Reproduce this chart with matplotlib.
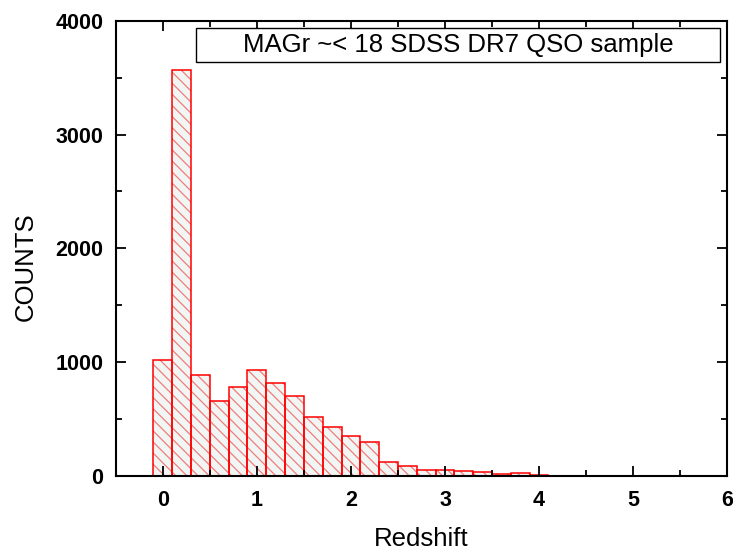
import matplotlib
matplotlib.use('Agg')
import matplotlib.pyplot as plt
from matplotlib.ticker import MultipleLocator
from matplotlib.patches import Rectangle

# histogram of redshift, bins of 0.2 centred on 0, 0.2, 0.4 ...
bin_centers = [0.0, 0.2, 0.4, 0.6, 0.8, 1.0, 1.2, 1.4, 1.6, 1.8, 2.0, 2.2,
               2.4, 2.6, 2.8, 3.0, 3.2, 3.4, 3.6, 3.8, 4.0]
counts = [1020, 3570, 890, 658, 782, 926, 815, 697, 520, 428, 346, 296,
          120, 85, 47, 47, 45, 32, 18, 20, 9]
bin_width = 0.2
legend_text = 'MAGr ~< 18 SDSS DR7 QSO sample'

plt.rcParams['font.family'] = ['Liberation Sans', 'DejaVu Sans']
plt.rcParams['hatch.linewidth'] = 0.9

fig = plt.figure(figsize=(7.33, 5.5), dpi=100)
ax = fig.add_axes([0.158, 0.135, 0.834, 0.827])

# hatch layer (pink lines) then red outlines on top
ax.bar(bin_centers, counts, width=bin_width, facecolor='#f1f6f5',
       edgecolor='#f07c7c', hatch='\\\\\\', linewidth=0)
ax.bar(bin_centers, counts, width=bin_width, facecolor='none',
       edgecolor='#ff0000', linewidth=1.1)

ax.set_xlim(-0.5, 6)
ax.set_ylim(0, 4000)
ax.xaxis.set_major_locator(MultipleLocator(1))
ax.xaxis.set_minor_locator(MultipleLocator(0.5))
ax.yaxis.set_major_locator(MultipleLocator(1000))
ax.yaxis.set_minor_locator(MultipleLocator(500))
ax.tick_params(which='both', direction='in', top=True, right=True, width=1.3)
ax.tick_params(which='major', length=7, labelsize=15.5)
ax.tick_params(axis='x', which='major', pad=10)
ax.tick_params(axis='y', which='major', pad=9)
ax.tick_params(which='minor', length=4)
for lab in ax.get_xticklabels() + ax.get_yticklabels():
    lab.set_fontweight('bold')
for sp in ax.spines.values():
    sp.set_linewidth(1.5)

ax.set_xlabel('Redshift', fontsize=18.5)
ax.xaxis.set_label_coords(0.5, -0.112)
ax.set_ylabel('COUNTS', fontsize=18.5)
ax.yaxis.set_label_coords(-0.128, 0.46)

# legend box
ax.add_patch(Rectangle((0.131, 0.910), 0.858, 0.075, transform=ax.transAxes,
                       facecolor='white', edgecolor='black', linewidth=1.0,
                       zorder=5))
ax.text(0.56, 0.948, legend_text, transform=ax.transAxes, fontsize=18.5,
        ha='center', va='center', zorder=6)

fig.savefig('out.png', dpi=100)
